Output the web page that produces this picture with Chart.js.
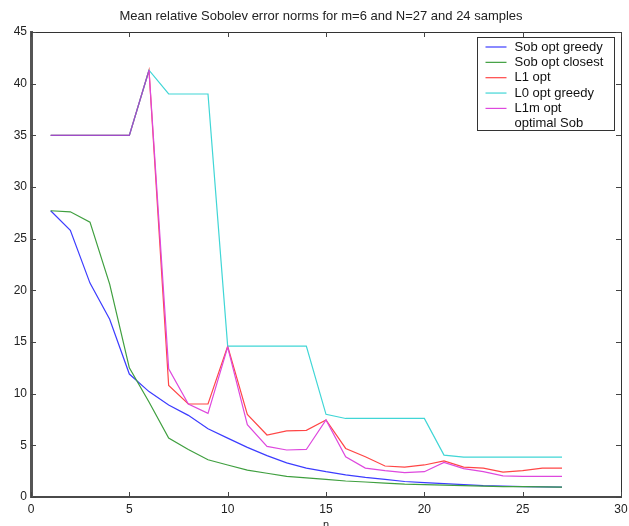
<!DOCTYPE html>
<html>
<head>
<meta charset="utf-8">
<script src="https://cdn.jsdelivr.net/npm/chart.js@4.4.1/dist/chart.umd.min.js"></script>
<style>
  html, body { margin: 0; padding: 0; background: #fff; }
  #wrap { width: 629px; height: 526px; }
</style>
</head>
<body>
<div id="wrap"><canvas id="sob-chart" width="629" height="526"></canvas></div>
<script>
// n = 1..27
var nValues = [1, 2, 3, 4, 5, 6, 7, 8, 9, 10, 11, 12, 13, 14, 15, 16, 17, 18, 19, 20, 21, 22, 23, 24, 25, 26, 27];

var sobOptGreedy = [27.7, 25.8, 20.7, 17.2, 11.9, 10.2, 8.9, 7.9, 6.6, 5.7, 4.8, 4.0, 3.3, 2.8, 2.45, 2.15, 1.9, 1.7, 1.5, 1.4, 1.3, 1.2, 1.1, 1.05, 1.0, 0.98, 0.95];
var sobOptClosest = [27.7, 27.6, 26.6, 20.6, 12.5, 9.2, 5.7, 4.6, 3.6, 3.1, 2.6, 2.3, 2.0, 1.85, 1.7, 1.55, 1.45, 1.35, 1.25, 1.2, 1.15, 1.1, 1.05, 1.0, 1.0, 0.98, 0.95];
var l1Opt = [35, 35, 35, 35, 35, 41.3, 10.8, 9.0, 9.0, 14.6, 8.0, 6.0, 6.4, 6.45, 7.45, 4.7, 3.9, 3.0, 2.9, 3.1, 3.5, 2.9, 2.8, 2.4, 2.55, 2.8, 2.8];
var l0OptGreedy = [35, 35, 35, 35, 35, 41.3, 39.0, 39.0, 39.0, 14.6, 14.6, 14.6, 14.6, 14.6, 8.0, 7.6, 7.6, 7.6, 7.6, 7.6, 4.05, 3.85, 3.85, 3.85, 3.85, 3.85, 3.85];
var l1mOpt = [35, 35, 35, 35, 35, 41.3, 12.4, 9.0, 8.1, 14.5, 7.0, 4.9, 4.55, 4.6, 7.45, 3.9, 2.8, 2.55, 2.35, 2.45, 3.35, 2.75, 2.45, 2.05, 2.0, 2.0, 2.0];

var seriesNames = ['Sob opt greedy', 'Sob opt closest', 'L1 opt', 'L0 opt greedy', 'L1m opt', 'optimal Sob'];
var seriesColors = ['#3c3cff', '#3f9f3f', '#ff4646', '#40d6d6', '#de48de', 'rgba(0,0,0,0)'];

var xTicks = [0, 5, 10, 15, 20, 25, 30];
var yTicks = [0, 5, 10, 15, 20, 25, 30, 35, 40, 45];

var chartTitle = 'Mean relative Sobolev error norms for m=6 and N=27 and 24 samples';

const FONT = '"Liberation Sans", Arial, Helvetica, sans-serif';

function toPoints(vals) {
    return vals.map(function (v, i) { return {x: nValues[i], y: v}; });
}

// where L1m sits on the other curves, the stacked lines look purple
function l1mSegColor(ctx) {
    var a = ctx.p0DataIndex, b = ctx.p1DataIndex;
    if (l1mOpt[a] === l0OptGreedy[a] && l1mOpt[b] === l0OptGreedy[b]) return '#a04ac8';
    return undefined;
}

const matlabFrame = {
    id: 'matlabFrame',
    afterDraw(chart) {
        const c = chart.ctx;
        const a = chart.chartArea;
        const xs = chart.scales.x, ys = chart.scales.y;
        c.save();
        // title, centred over the axes like matlab does
        c.fillStyle = '#222';
        c.font = '13px ' + FONT;
        c.textAlign = 'center';
        c.textBaseline = 'middle';
        c.fillText(chartTitle, (a.left + a.right) / 2 - 5, 16);
        c.textAlign = 'left';

        // top + right border
        c.strokeStyle = '#333';
        c.lineWidth = 1;
        c.beginPath();
        c.moveTo(a.left, a.top + 0.5);
        c.lineTo(a.right + 0.5, a.top + 0.5);
        c.lineTo(a.right + 0.5, a.bottom);
        c.stroke();

        // inward ticks on every side
        c.strokeStyle = '#444';
        c.beginPath();
        xTicks.forEach(function (v) {
            const px = Math.round(xs.getPixelForValue(v)) + 0.5;
            c.moveTo(px, a.bottom); c.lineTo(px, a.bottom - 5);
            c.moveTo(px, a.top); c.lineTo(px, a.top + 5);
        });
        yTicks.forEach(function (v) {
            const py = Math.round(ys.getPixelForValue(v)) + 0.5;
            c.moveTo(a.left, py); c.lineTo(a.left + 5, py);
            c.moveTo(a.right, py); c.lineTo(a.right - 5, py);
        });
        c.stroke();

        // legend box top-right inside the axes
        const bx = a.right - 143.5, by = a.top + 5.5, bw = 137, bh = 93;
        c.fillStyle = '#fff';
        c.fillRect(bx, by, bw, bh);
        c.strokeStyle = '#333';
        c.strokeRect(bx, by, bw, bh);
        c.font = '13px ' + FONT;
        chart.data.datasets.forEach(function (ds, i) {
            const ly = by + 9.5 + i * 15.35;
            c.strokeStyle = ds.borderColor;
            c.lineWidth = 1.2;
            c.beginPath();
            c.moveTo(bx + 8, ly); c.lineTo(bx + 29, ly);
            c.stroke();
            c.fillStyle = '#111';
            c.fillText(ds.label, bx + 37, ly);
        });
        c.restore();
    }
};

var myChart = new Chart(document.getElementById('sob-chart'), {
    type: 'line',
    data: {
        datasets: [
            {label: seriesNames[0], data: toPoints(sobOptGreedy), borderColor: seriesColors[0], order: 5},
            {label: seriesNames[1], data: toPoints(sobOptClosest), borderColor: seriesColors[1], order: 4},
            {label: seriesNames[2], data: toPoints(l1Opt), borderColor: seriesColors[2], order: 3},
            {label: seriesNames[3], data: toPoints(l0OptGreedy), borderColor: seriesColors[3], order: 2},
            {label: seriesNames[4], data: toPoints(l1mOpt), borderColor: seriesColors[4], order: 1,
             segment: {borderColor: l1mSegColor}},
            {label: seriesNames[5], data: [], borderColor: seriesColors[5], order: 0}
        ]
    },
    options: {
        responsive: false,
        animation: false,
        events: [],
        elements: {
            point: {radius: 0},
            line: {borderWidth: 1.2, tension: 0}
        },
        layout: {padding: {left: 0, right: 8, top: 32, bottom: 0}},
        scales: {
            x: {
                type: 'linear',
                min: 0, max: 30,
                afterFit: function (s) { s.height = 29; s.paddingLeft = 0; s.paddingRight = 0; },
                afterBuildTicks: function (s) { s.ticks = xTicks.map(function (v) { return {value: v}; }); },
                grid: {display: true, drawOnChartArea: false, drawTicks: false},
                border: {display: true, color: '#4a4a4a', width: 2},
                ticks: {color: '#222', padding: 5, font: {family: FONT, size: 12}},
                title: {display: true, text: 'n', color: '#222', padding: {top: 0, bottom: -6}, font: {family: FONT, size: 11}}
            },
            y: {
                min: 0, max: 45,
                afterFit: function (s) { s.width = 31; s.paddingTop = 0; s.paddingBottom = 0; },
                afterBuildTicks: function (s) { s.ticks = yTicks.map(function (v) { return {value: v}; }); },
                grid: {display: true, drawOnChartArea: false, drawTicks: false},
                border: {display: true, color: '#555', width: 3},
                ticks: {color: '#222', padding: 4, font: {family: FONT, size: 12}}
            }
        },
        plugins: {
            legend: {display: false},
            tooltip: {enabled: false},
            title: {display: false}
        }
    },
    plugins: [matlabFrame]
});
</script>
</body>
</html>
